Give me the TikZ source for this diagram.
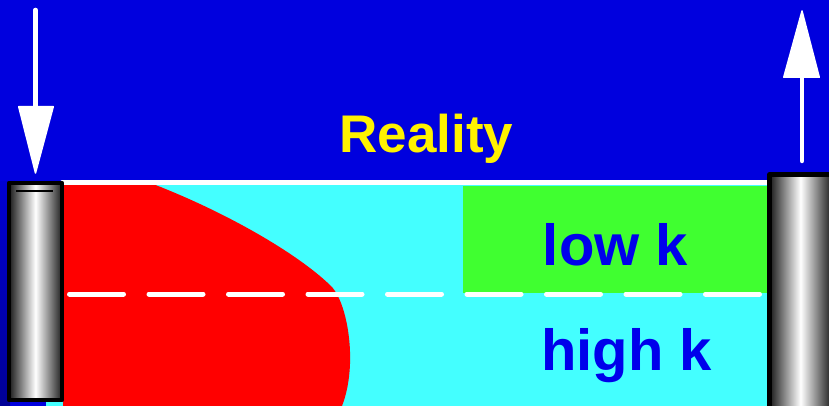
\documentclass[tikz,border=0pt]{standalone}
\usepackage{fontspec}
\setmainfont{Liberation Sans}
\usepackage{tikz}

\begin{document}
\begin{tikzpicture}[x=1pt, y=-1pt]

        \definecolor{skyblue}{RGB}{0, 0, 222}
        \definecolor{deepblue}{RGB}{0, 0, 150}
        \definecolor{fluidcyan}{RGB}{68, 255, 255}
        \definecolor{zonegreen}{RGB}{64, 255, 48}
        \definecolor{labelblue}{RGB}{0, 0, 235}
        \tikzset{
            title/.style={text=yellow, font=\bfseries\fontsize{53}{53}\selectfont, inner sep=0pt, anchor=base},
            zone/.style={text=labelblue, font=\bfseries\fontsize{58}{58}\selectfont, inner sep=0pt, anchor=base},
            shaft/.style={draw=white, line width=4.5pt, line cap=round},
            head/.style={fill=white, draw=white, line width=1.5pt, line join=round},
            well/.style={left color=black!90, right color=black!88, middle color=white},
            casing/.style={draw=black, line width=4.5pt, line join=round},
            boundary/.style={draw=white, line width=4pt, line cap=round},
            interface/.style={draw=white, line width=5pt, line cap=round, dash pattern=on 54pt off 25.5pt}
        }

        \useasboundingbox (0,0) rectangle (829,406);
        \clip (0,0) rectangle (829,406);
        \fill[skyblue] (0,0) rectangle (829,406);
        \shade[top color=skyblue!95!black, bottom color=deepblue] (0,182) rectangle (10,406);


        \fill[fluidcyan] (46,184) rectangle (768,406);
        \fill[red] (63,184) -- (153,184) .. controls (228,213) and (300,255) .. (332,287)
            .. controls (348,305) and (358,365) .. (342,406) -- (63,406) -- cycle;
        \fill[zonegreen] (463,186) rectangle (768,293);
        \draw[boundary] (62,182.5) -- (771,182.5);
        \draw[interface] (69.5,294) -- (760,294);


        \shade[well] (9,183) rectangle (62,400);
        \draw[casing] (9,183) rectangle (62,400);
        \draw[black, line width=1.5pt] (16,191) -- (53,191);

        \shade[well] (769.5,174.5) rectangle (831.5,410);
        \draw[casing] (769.5,174.5) rectangle (831.5,410);


        \coordinate (injTail) at (35.5,10);
        \coordinate (injTip) at (35.5,173);
        \draw[shaft] (injTail) -- (35.5,110);
        \filldraw[head] (18.75,106.75) -- (53.25,106.75) -- (injTip) -- cycle;

        \coordinate (prodTip) at (802,11);
        \coordinate (prodTail) at (802,161);
        \draw[shaft] (prodTail) -- (802,75);
        \filldraw[head] (prodTip) -- (819.25,77.25) -- (783.75,77.25) -- cycle;


        \node[title] (reality) at (426.5,153) {Reality};
        \node[zone] (lowk) at (615.5,265) {low k};
        \node[zone] (highk) at (626.5,370) {high k};

    \end{tikzpicture}
\end{document}
